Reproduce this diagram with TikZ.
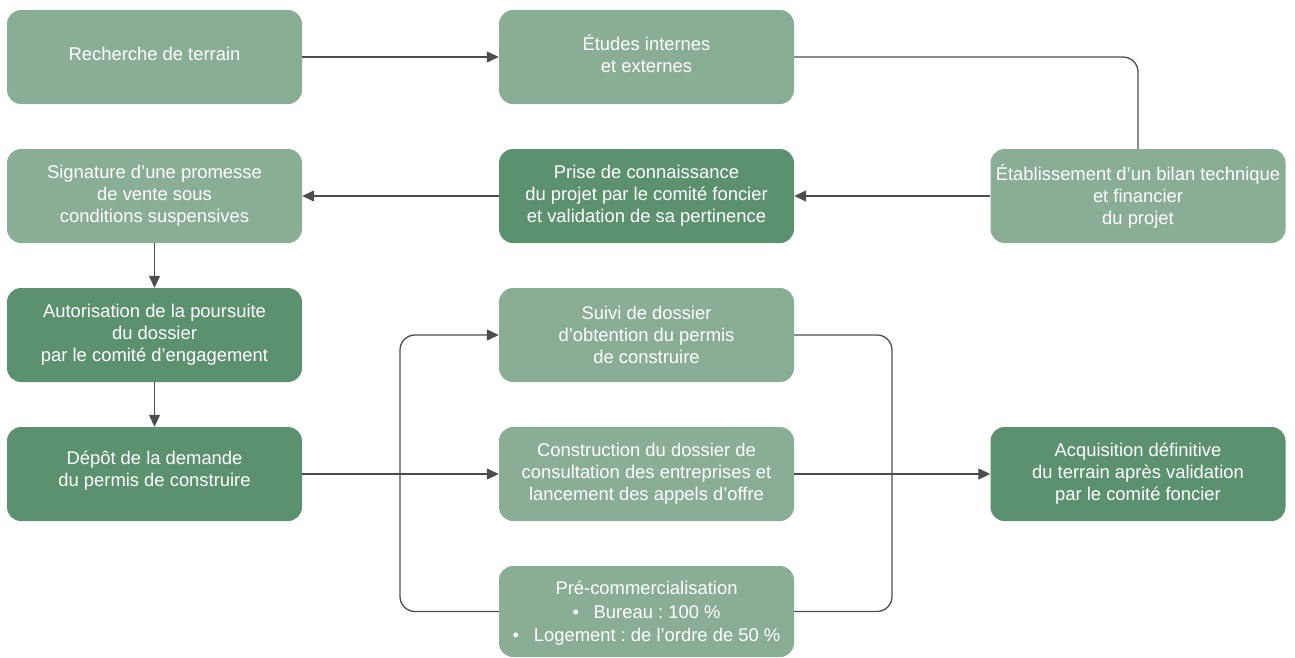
\documentclass[tikz,border=0pt]{standalone}
\usepackage{fontspec}
\setmainfont{Liberation Sans}
\frenchspacing
\usetikzlibrary{arrows.meta}
\definecolor{lightg}{HTML}{8AAD96}
\definecolor{darkg}{HTML}{5C9170}
\definecolor{linec}{HTML}{4D4D4D}
\begin{document}
\begin{tikzpicture}[x=1pt,y=-1pt,
  box/.style={rounded corners=14pt,minimum width=295pt,minimum height=94pt,inner sep=0pt},
  lbox/.style={box,fill=lightg},
  dbox/.style={box,fill=darkg},
  txt/.style={inner sep=0pt,align=center,text=white,font=\fontsize{18.4}{22}\selectfont},
  tip/.style={-{Triangle[length=12pt,width=11pt]}},
  conn/.style={draw=linec,line width=1.3pt,tip},
  plain/.style={draw=linec,line width=1.3pt,rounded corners=15pt}]
\useasboundingbox (0,0) rectangle (1295,657);
\node[lbox] (rech) at (154.5,57) {};
\node[txt] (trech) at ([yshift=3.5pt]rech.center) {Recherche de terrain};
\node[lbox] (etud) at (646.5,57) {};
\node[txt] (tetud) at ([yshift=3pt]etud.center) {Études internes\\et externes};
\node[lbox] (sign) at (154.5,196) {};
\node[txt] (tsign) at (sign.center) {Signature d’une promesse\\de vente sous\\conditions suspensives};
\node[dbox] (prise) at (646.5,196) {};
\node[txt] (tprise) at (prise.center) {Prise de connaissance\\du projet par le comité foncier\\et validation de sa pertinence};
\node[lbox] (etab) at (1138,196) {};
\node[txt] (tetab) at (etab.center) {Établissement d’un bilan technique\\et financier\\du projet};
\node[dbox] (auto) at (154.5,335) {};
\node[txt] (tauto) at (auto.center) {Autorisation de la poursuite\\du dossier\\par le comité d’engagement};
\node[lbox] (suivi) at (646.5,335) {};
\node[txt] (tsuivi) at (suivi.center) {Suivi de dossier\\d’obtention du permis\\de construire};
\node[dbox] (depot) at (154.5,474) {};
\node[txt] (tdepot) at ([yshift=3pt]depot.center) {Dépôt de la demande\\du permis de construire};
\node[lbox] (cons) at (646.5,474) {};
\node[txt] (tcons) at (cons.center) {Construction du dossier de\\consultation des entreprises et\\lancement des appels d’offre};
\node[dbox] (acq) at (1138,474) {};
\node[txt] (tacq) at (acq.center) {Acquisition définitive\\du terrain après validation\\par le comité foncier};
\node[lbox,minimum height=91pt] (pre) at (646.5,611.5) {};
\node[txt,font=\fontsize{18.4}{23.5}\selectfont] (tpre) at ([yshift=-2pt]pre.center) {Pré-commercialisation\\•\hspace{0.8em}Bureau : 100 \%\\•\hspace{0.8em}Logement : de l’ordre de 50 \%};
\coordinate (lx) at (400,474);
\coordinate (rx) at (892,474);
\draw[conn] (rech) -- (etud);
\draw[plain] (etud.east) -| (etab.north);
\draw[conn] (etab) -- (prise);
\draw[conn] (prise) -- (sign);
\draw[conn] (sign) -- (auto);
\draw[conn] (auto) -- (depot);
\draw[conn] (depot) -- (cons);
\draw[plain,tip] (pre.west) -| (lx) |- (suivi.west);
\draw[plain] (suivi.east) -| (rx) |- (pre.east);
\draw[conn] (cons) -- (acq);
\end{tikzpicture}
\end{document}
